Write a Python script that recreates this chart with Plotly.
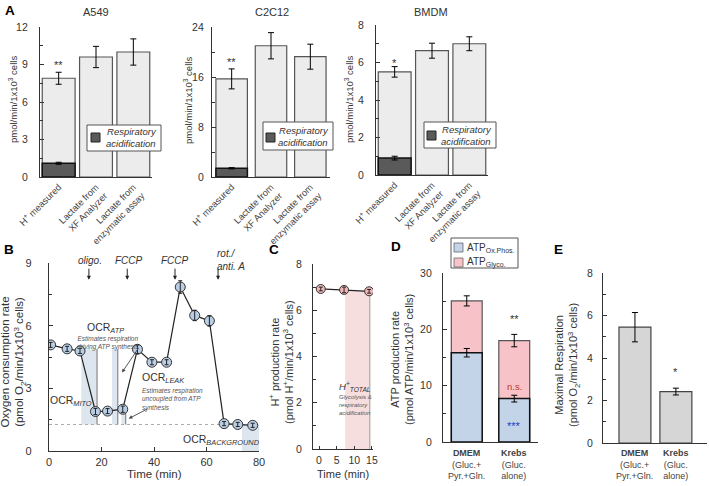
import plotly.graph_objects as go

W, H = 709, 486
FONT = "Liberation Sans, Arial, sans-serif"
DARK = "#333333"

# ---------------- data ----------------
a_cats = ["H<sup>+</sup> measured", "Lactate from<br>XF Analyzer", "Lactate from<br>enzymatic assay"]
a549_vals = [7.9, 9.6, 10.0]
a549_err = [0.48, 0.85, 1.05]
a549_resp = [1.1]
a549_resp_err = [0.08]
c2c12_vals = [15.7, 21.0, 19.25]
c2c12_err = [1.6, 2.1, 2.0]
c2c12_resp = [1.4]
c2c12_resp_err = [0.1]
bmdm_vals = [5.5, 6.63, 7.0]
bmdm_err = [0.28, 0.4, 0.37]
bmdm_resp = [0.9]
bmdm_resp_err = [0.1]

b_time = [0.6, 6.9, 11.8, 17.7, 22.3, 28.1, 33.7, 39.2, 44.8, 50.0, 55.5, 61.1, 66.7, 71.9, 77.6]
b_ocr = [5.08, 4.89, 4.79, 1.89, 1.91, 2.0, 4.87, 4.25, 4.25, 7.85, 6.49, 6.23, 1.31, 1.27, 1.23]
b_err = [0.12, 0.12, 0.12, 0.15, 0.12, 0.15, 0.2, 0.12, 0.12, 0.3, 0.25, 0.25, 0.1, 0.1, 0.1]

c_time = [0.5, 7.1, 14.2]
c_h = [6.92, 6.88, 6.82]
c_err = [0.08, 0.12, 0.08]

d_cats = ["<b>DMEM</b><br>(Gluc.+<br>Pyr.+Gln.", "<b>Krebs</b><br>(Gluc.<br>alone)"]
d_ox = [15.85, 7.7]
d_ox_err = [0.75, 0.6]
d_total = [25.05, 18.0]
d_total_err = [0.9, 1.1]

e_cats = d_cats
e_vals = [5.45, 2.42]
e_err = [0.69, 0.16]


def px(x):
    return x / W


def py(y):
    return 1 - y / H


fig = go.Figure()

ERR = dict(type="data", color="black", thickness=1, width=3)


def panel_a(vals, err, resp, resp_err, ax, width):
    xs = [0, 1, 2]
    fig.add_trace(go.Bar(x=xs, y=vals, width=width, marker=dict(color="#ececec", line=dict(color="#555555", width=1.2)),
                         error_y=dict(array=err, **ERR), xaxis="x" + ax, yaxis="y" + ax, showlegend=False))
    fig.add_trace(go.Bar(x=[0], y=resp, width=width, marker=dict(color="#5a5a5a", line=dict(color="#111111", width=1.5)),
                         error_y=dict(array=resp_err, **ERR), xaxis="x" + ax, yaxis="y" + ax, showlegend=False))


panel_a(a549_vals, a549_err, a549_resp, a549_resp_err, "", 0.88)
panel_a(c2c12_vals, c2c12_err, c2c12_resp, c2c12_resp_err, "2", 0.8)
panel_a(bmdm_vals, bmdm_err, bmdm_resp, bmdm_resp_err, "3", 0.88)

# Panel B
fig.add_trace(go.Scatter(x=b_time, y=b_ocr, mode="lines+markers", xaxis="x4", yaxis="y4",
                         line=dict(color="#222222", width=1.2),
                         marker=dict(size=10, color="#b9cde5", line=dict(color="#333333", width=1)),
                         showlegend=False))
fig.add_trace(go.Scatter(x=b_time, y=b_ocr, mode="markers", xaxis="x4", yaxis="y4",
                         marker=dict(size=1, opacity=0),
                         error_y=dict(array=b_err, color="#222222", thickness=1, width=2), showlegend=False))

# Panel C
fig.add_trace(go.Scatter(x=c_time, y=c_h, mode="lines+markers", xaxis="x5", yaxis="y5",
                         line=dict(color="#222222", width=1.2),
                         marker=dict(size=9, color="#f2b8b8", line=dict(color="#333333", width=1)),
                         showlegend=False))
fig.add_trace(go.Scatter(x=c_time, y=c_h, mode="markers", xaxis="x5", yaxis="y5",
                         marker=dict(size=1, opacity=0),
                         error_y=dict(array=c_err, color="#222222", thickness=1, width=2), showlegend=False))

# Panel D
fig.add_trace(go.Bar(x=[0, 1], y=d_total, width=0.65, marker=dict(color="#f8c3c8", line=dict(color="#555555", width=1.2)),
                     error_y=dict(array=d_total_err, **ERR), xaxis="x6", yaxis="y6", showlegend=False))
fig.add_trace(go.Bar(x=[0, 1], y=d_ox, width=0.65, marker=dict(color="#c3d3e8", line=dict(color="#111111", width=1.5)),
                     error_y=dict(array=d_ox_err, **ERR), xaxis="x6", yaxis="y6", showlegend=False))

# Panel E
fig.add_trace(go.Bar(x=[0, 1], y=e_vals, width=0.78, marker=dict(color="#d6d6d6", line=dict(color="#444444", width=1.2)),
                     error_y=dict(array=e_err, **ERR), xaxis="x7", yaxis="y7", showlegend=False))

# ---------------- axes ----------------
def xaxis(x0, x1, rng, anchor, **kw):
    d = dict(domain=[px(x0), px(x1)], range=rng, anchor=anchor, showline=True, linecolor=DARK, linewidth=1.3,
             showgrid=False, zeroline=False, automargin=False, tickfont=dict(size=10, color=DARK, family=FONT))
    d.update(kw)
    return d


def yaxis(y_top, y_bot, rng, anchor, tickvals, minor_dtick, standoff, **kw):
    d = dict(domain=[py(y_bot), py(y_top)], range=rng, anchor=anchor, showline=True, linecolor=DARK, linewidth=1.3,
             showgrid=False, zeroline=False, tickvals=tickvals, ticks="inside", ticklen=4, tickcolor=DARK,
             automargin=False,
             minor=dict(ticks="inside", ticklen=2.5, dtick=minor_dtick, tickcolor=DARK, showgrid=False),
             ticklabelstandoff=standoff, tickfont=dict(size=10.5, color=DARK, family=FONT))
    d.update(kw)
    return d


atick = dict(tickvals=[0, 1, 2], ticktext=a_cats, tickangle=-45, ticks="", tickfont=dict(size=9.3, color="#444", family=FONT))

layout = dict(
    width=W, height=H, margin=dict(l=0, r=0, t=0, b=0, pad=0, autoexpand=False), paper_bgcolor="white",
    plot_bgcolor="rgba(0,0,0,0)",
    barmode="overlay", font=dict(family=FONT, color=DARK),
    xaxis=xaxis(40, 152, [-0.5, 2.5], "y", **atick),
    yaxis=yaxis(27, 177, [0, 12], "x", [0, 3, 6, 9, 12], 1.5, 9),
    xaxis2=xaxis(212, 330, [-0.5, 2.5], "y2", **atick),
    yaxis2=yaxis(27, 177, [0, 24], "x2", [0, 8, 16, 24], 4, 5),
    xaxis3=xaxis(376, 488, [-0.5, 2.5], "y3", **atick),
    yaxis3=yaxis(25, 175, [0, 8], "x3", [0, 2, 4, 6, 8], 1, 9),
    xaxis4=xaxis(49, 259, [0, 80], "y4", tickvals=[0, 20, 40, 60, 80], ticks="inside", ticklen=4, tickcolor=DARK,
                 ticklabelstandoff=1, tickfont=dict(size=11, color=DARK, family=FONT)),
    yaxis4=yaxis(263, 451, [0, 9], "x4", [0, 3, 6, 9], 1.5, 14, tickfont=dict(size=11, color=DARK, family=FONT)),
    xaxis5=xaxis(313, 373, [-1.7, 15.3], "y5", tickvals=[0, 5, 10, 15], ticks="inside", ticklen=3, tickcolor=DARK,
                 ticklabelstandoff=1, tickfont=dict(size=10.5, color=DARK, family=FONT)),
    yaxis5=yaxis(264, 449, [0, 8], "x5", [0, 2, 4, 6, 8], 1, 8),
    xaxis6=xaxis(443, 538, [-0.5, 1.5], "y6", tickvals=[0, 1], showticklabels=False, ticks=""),
    yaxis6=yaxis(273, 442, [0, 30], "x6", [0, 10, 20, 30], 5, 8),
    xaxis7=xaxis(603, 707, [-0.78, 1.76], "y7", tickvals=[0, 1], showticklabels=False, ticks=""),
    yaxis7=yaxis(273, 443, [0, 8], "x7", [0, 2, 4, 6, 8], 1, 7),
)
fig.update_layout(**layout)

ann = []
shapes = []


def ptext(x, y, text, size=11, bold=False, angle=0, xanchor="center", color=DARK, italic=False, align="center"):
    t = text
    if italic:
        t = "<i>" + t + "</i>"
    if bold:
        t = "<b>" + t + "</b>"
    ann.append(dict(x=px(x), y=py(y), xref="paper", yref="paper", text=t, showarrow=False, textangle=angle,
                    xanchor=xanchor, yanchor="middle", align=align, font=dict(size=size, color=color, family=FONT)))


# panel letters
ptext(10, 11, "A", 13.5, bold=True, color="black")
ptext(9, 249, "B", 13.5, bold=True, color="black")
ptext(274, 249, "C", 13.5, bold=True, color="black")
ptext(396, 246, "D", 13.5, bold=True, color="black")
ptext(558, 249, "E", 13.5, bold=True, color="black")

# A titles
ptext(96, 12, "A549", 11)
ptext(272, 12, "C2C12", 11)
ptext(431, 12, "BMDM", 11)
for xx in (13, 188, 349):
    ptext(xx, 100, "pmol/min/1x10<sup>3</sup> cells", 9.5, angle=-90)


def dtext(x, y, ax, text, size=11, color=DARK, xanchor="center", italic=False, align="center"):
    t = "<i>" + text + "</i>" if italic else text
    ann.append(dict(x=x, y=y, xref="x" + ax, yref="y" + ax, text=t, showarrow=False, xanchor=xanchor, align=align,
                    yanchor="middle", font=dict(size=size, color=color, family=FONT)))


dtext(0, 8.95, "", "**", 11)
dtext(0, 18.4, "2", "**", 11)
dtext(0, 6.0, "3", "*", 11)

# A legend boxes
for (x0, y0, x1, y1, sx0, sy0) in [(87, 125, 161, 151, 91, 133), (263, 122, 333, 150, 266, 133), (424, 122, 496, 148, 427, 131)]:
    shapes.append(dict(type="rect", xref="paper", yref="paper", x0=px(x0), x1=px(x1), y0=py(y1), y1=py(y0),
                       fillcolor="white", line=dict(color="#555", width=1)))
    shapes.append(dict(type="rect", xref="paper", yref="paper", x0=px(sx0), x1=px(sx0 + 9), y0=py(sy0 + 9), y1=py(sy0),
                       fillcolor="#5a5a5a", line=dict(color="#222", width=1)))
    ann.append(dict(x=px(x1 - 2), y=py((y0 + y1) / 2), xref="paper", yref="paper",
                    text="<i>Respiratory</i><br><i>acidification</i>", showarrow=False, xanchor="right", align="right",
                    yanchor="middle", font=dict(size=9.5, color=DARK, family=FONT)))

# B shapes
bshade = "#dde5ef"
for (x0, x1, y0, y1) in [(12.3, 18.3, 1.27, 4.88), (24.0, 26.2, 1.27, 4.88), (27.6, 29.2, 1.27, 2.0), (73.5, 80, 0, 1.27)]:
    shapes.append(dict(type="rect", xref="x4", yref="y4", x0=x0, x1=x1, y0=y0, y1=y1, fillcolor=bshade,
                       line=dict(width=0), layer="below"))
    if x1 < 70:
        shapes.append(dict(type="line", xref="x4", yref="y4", x0=x1, x1=x1, y0=y0, y1=y1,
                           line=dict(color="#888888", width=1.2), layer="below"))
shapes.append(dict(type="line", xref="x4", yref="y4", x0=0, x1=80, y0=1.27, y1=1.27,
                   line=dict(color="#aaaaaa", width=1, dash="dot"), layer="below"))

# B injection labels (above the plot area)
for (x, t) in [(90, "oligo."), (128.5, "FCCP"), (175, "FCCP")]:
    ptext(x, 260, t, 10, italic=True)
ann.append(dict(x=px(215), y=py(259.5), xref="paper", yref="paper", text="<i>rot./<br>anti. A</i>", showarrow=False,
                xanchor="left", align="left", yanchor="middle", font=dict(size=10, color=DARK, family=FONT)))
for x in (15.2, 29.8, 48, 64.4):
    ann.append(dict(x=x, y=8.2, xref="x4", yref="y4", ax=x, ay=8.8, axref="x4", ayref="y4", text="", showarrow=True,
                    arrowhead=2, arrowsize=0.8, arrowwidth=1, arrowcolor="#222"))

dtext(21.5, 5.9, "4", "OCR<sub><i>ATP</i></sub>", 10.5)
dtext(22.5, 5.15, "4", "Estimates respiration<br>driving ATP synthesis", 6.5, color="#555", italic=True)
ann.append(dict(x=27.8, y=3.76, xref="x4", yref="y4", ax=34.5, ay=5.0, axref="x4", ayref="y4", text="",
                showarrow=True, arrowhead=2, arrowsize=0.8, arrowwidth=0.9, arrowcolor="#444"))
dtext(34.6, 3.48, "4", "OCR<sub><i>LEAK</i></sub>", 10.5, xanchor="left")
dtext(34.6, 2.45, "4", "Estimates respiration<br>uncoupled from ATP<br>synthesis", 6.5, color="#555", italic=True,
      xanchor="left", align="left")
ann.append(dict(x=30.4, y=1.55, xref="x4", yref="y4", ax=38.0, ay=2.05, axref="x4", ayref="y4", text="",
                showarrow=True, arrowhead=2, arrowsize=0.8, arrowwidth=0.9, arrowcolor="#444"))
dtext(8.2, 2.4, "4", "OCR<sub><i>MITO</i></sub>", 10.5)
dtext(65.8, 0.51, "4", "OCR<sub><i>BACKGROUND</i></sub>", 10.5)

ptext(12.5, 362, "Oxygen consumption rate<br>(pmol O<sub>2</sub>/min/1x10<sup>3</sup> cells)", 11.5, angle=-90)
ptext(154, 474, "Time (min)", 11.5)

# C
shapes.append(dict(type="rect", xref="x5", yref="y5", x0=7.4, x1=14.4, y0=0, y1=6.84, fillcolor="#f7dede",
                   line=dict(width=0), layer="below"))
shapes.append(dict(type="line", xref="x5", yref="y5", x0=14.4, x1=14.4, y0=0, y1=6.84,
                   line=dict(color="#999", width=1), layer="below"))
dtext(5.0, 2.7, "5", "H<sup>+</sup><sub>TOTAL</sub>", 9.5, xanchor="left", italic=True)
dtext(5.0, 1.9, "5", "Glycolysis &<br>respiratory<br>acidification", 6, color="#555", xanchor="left", italic=True,
      align="left")
ptext(281, 362, "H<sup>+</sup> production rate<br>(pmol H<sup>+</sup>/min/1x10<sup>3</sup> cells)", 11, angle=-90)
ptext(343, 474, "Time (min)", 11)

# D / E category labels below the axes
for ax in ("6", "7"):
    cats = d_cats if ax == "6" else e_cats
    for i, c in enumerate(cats):
        ann.append(dict(x=i, y=py(446), xref="x" + ax, yref="paper", text=c, showarrow=False, xanchor="center",
                        yanchor="top", align="center", font=dict(size=9, color="#444", family=FONT)))

# D
ptext(402, 360, "ATP production rate<br>(pmol ATP/min/1x10<sup>3</sup> cells)", 11, angle=-90)
dtext(1, 21.8, "6", "**", 11)
dtext(1, 9.8, "6", "n.s.", 9.5, color="#c0392b")
dtext(1, 2.8, "6", "***", 11, color="#1f3fbf")
shapes.append(dict(type="rect", xref="paper", yref="paper", x0=px(451), x1=px(518), y0=py(268), y1=py(238),
                   fillcolor="white", line=dict(color="#555", width=1)))
for (yy, col, sub) in [(243, "#c3d3e8", "Ox.Phos."), (258, "#f8c3c8", "Glyco.")]:
    shapes.append(dict(type="rect", xref="paper", yref="paper", x0=px(454), x1=px(463), y0=py(yy + 9), y1=py(yy),
                       fillcolor=col, line=dict(color="#666", width=0.8)))
    ann.append(dict(x=px(465), y=py(yy + 4.5), xref="paper", yref="paper",
                    text="ATP<sub>" + sub + "</sub>", showarrow=False, xanchor="left", yanchor="middle",
                    font=dict(size=10, color=DARK, family=FONT)))

# E
ptext(567, 365, "Maximal Respiration<br>(pmol O<sub>2</sub>/min/1x10<sup>3</sup> cells)", 11, angle=-90)
dtext(1, 3.35, "7", "*", 11)

fig.update_layout(annotations=ann, shapes=shapes)
fig.write_html("out.html", config={"displayModeBar": False},
               post_script="document.body.style.margin='0';document.body.style.overflow='hidden';")
